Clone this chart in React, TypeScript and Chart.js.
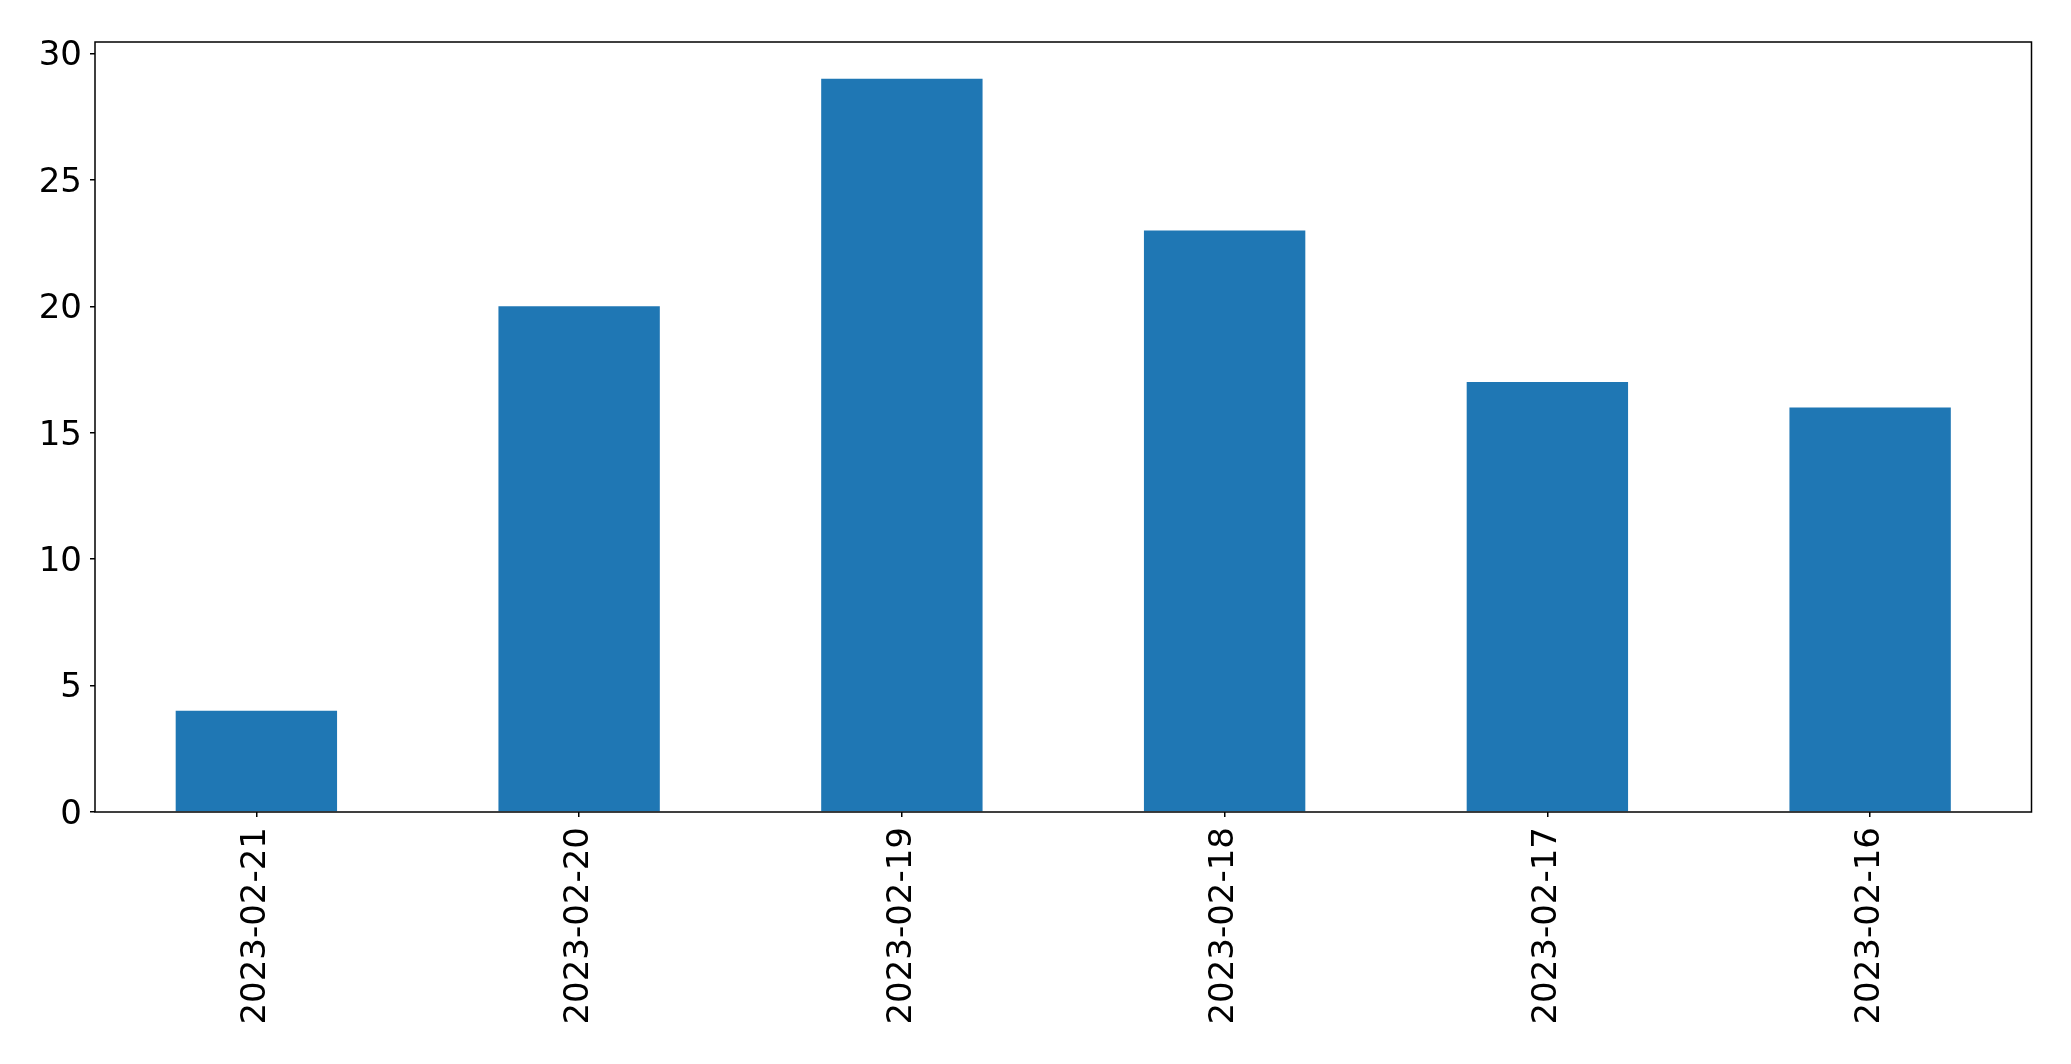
import React, { useEffect, useRef } from "react";
import { Chart, registerables } from "chart.js";

Chart.register(...registerables);

const categories = ["2023-02-21", "2023-02-20", "2023-02-19", "2023-02-18", "2023-02-17", "2023-02-16"];
const counts = [4, 20, 29, 23, 17, 16];
const yTicks = [0, 5, 10, 15, 20, 25, 30];

const W = 2071;
const H = 1064;

const framePlugin = {
  id: "frame",
  afterDraw(chart: any) {
    const { ctx, chartArea } = chart;
    ctx.save();
    ctx.strokeStyle = "#000";
    ctx.lineWidth = 1.5;
    ctx.strokeRect(chartArea.left, chartArea.top, chartArea.right - chartArea.left, chartArea.bottom - chartArea.top);
    ctx.restore();
  },
};

export default function App() {
  const ref = useRef<HTMLCanvasElement | null>(null);
  useEffect(() => {
    if (!ref.current) return;
    const font = { family: "'DejaVu Sans'", size: 34 };
    const chart = new Chart(ref.current, {
      type: "bar",
      data: {
        labels: categories,
        datasets: [
          {
            data: counts,
            backgroundColor: "#1f77b4",
            borderWidth: 0,
            categoryPercentage: 0.5,
            barPercentage: 1,
          },
        ],
      },
      plugins: [framePlugin],
      options: {
        responsive: false,
        animation: false,
        devicePixelRatio: 1,
        layout: { padding: { left: 0, top: 42, right: 39.5, bottom: 0 } },
        plugins: { legend: { display: false }, tooltip: { enabled: false } },
        scales: {
          x: {
            grid: { display: true, drawOnChartArea: false, drawTicks: true, tickLength: 5, color: "#000", lineWidth: 1.5, offset: false },
            border: { display: false },
            ticks: { font, color: "#000", maxRotation: 90, minRotation: 90, autoSkip: false, padding: 10 },
            afterFit(scale: any) {
              scale.height = H - 812;
            },
          },
          y: {
            min: 0,
            max: 30.45,
            grid: { display: true, drawOnChartArea: false, drawTicks: true, tickLength: 5, color: "#000", lineWidth: 1.5 },
            border: { display: false },
            ticks: { font, color: "#000", stepSize: 5, includeBounds: false, padding: 8, labelOffset: 3 },
            afterBuildTicks(scale: any) {
              scale.ticks = yTicks.map((v) => ({ value: v }));
            },
            afterFit(scale: any) {
              scale.width = 95;
            },
          },
        },
      },
    } as any);
    return () => chart.destroy();
  }, []);
  return (
    <div style={{ position: "absolute", left: 0, top: 0, width: W, height: H, background: "#fff" }}>
      <canvas ref={ref} width={W} height={H} style={{ display: "block", width: W, height: H }} />
    </div>
  );
}
